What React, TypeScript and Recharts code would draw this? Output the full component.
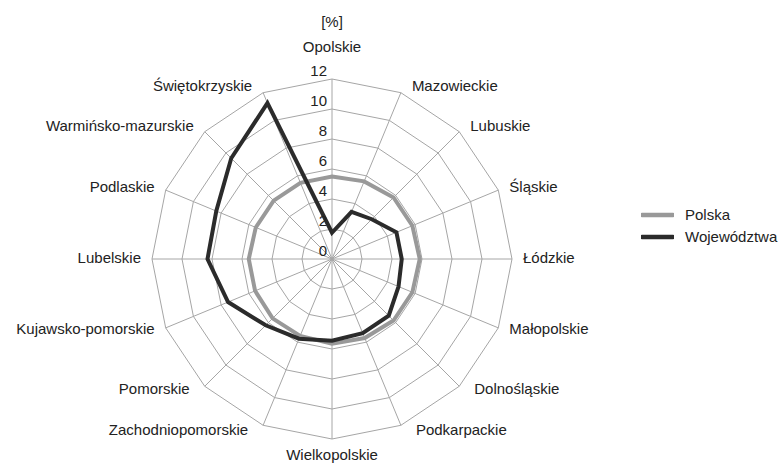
import React from 'react';
import { RadarChart, Radar, PolarGrid, PolarAngleAxis, PolarRadiusAxis } from 'recharts';

const categories = ['Opolskie', 'Mazowieckie', 'Lubuskie', 'Śląskie', 'Łódzkie', 'Małopolskie', 'Dolnośląskie', 'Podkarpackie', 'Wielkopolskie', 'Zachodniopomorskie', 'Pomorskie', 'Kujawsko-pomorskie', 'Lubelskie', 'Podlaskie', 'Warmińsko-mazurskie', 'Świętokrzyskie'];
const polska = [5.5, 5.6, 5.8, 5.8, 5.85, 5.8, 5.8, 5.7, 5.65, 5.55, 5.6, 5.55, 5.55, 5.5, 5.5, 5.5];
const wojewodztwa = [1.75, 3.4, 3.75, 4.65, 4.65, 4.8, 5.35, 5.35, 5.45, 5.75, 6.25, 7.5, 8.3, 8.35, 9.5, 11.25];
const radiusTicks = [0, 2, 4, 6, 8, 10, 12];
const seriesNames = ['Polska', 'Województwa'];
const unitLabel = '[%]';

const data = categories.map((c, i) => ({ name: c, polska: polska[i], woj: wojewodztwa[i] }));

if (typeof document !== 'undefined') {
  document.body.style.margin = '0';
}

const W = 781;
const H = 463;
const CX = 332;
const CY = 259;
const R = 180;
const FONT = '"Liberation Sans", Arial, sans-serif';
const TEXT = '#222';

const AngleTick = (props: any) => {
  const { x, y, payload } = props;
  const dx = x - CX;
  const dy = y - CY;
  const len = Math.sqrt(dx * dx + dy * dy) || 1;
  const ux = dx / len;
  const uy = dy / len;
  const vx = CX + R * ux;
  const vy = CY + R * uy;
  let tx = vx;
  let ty = vy;
  let anchor: 'start' | 'end' | 'middle' = 'middle';
  if (Math.abs(ux) < 0.01) {
    ty = uy < 0 ? vy - 32 : vy + 16;
  } else {
    const gap = 11 + (uy > 0.6 ? 4 : 0);
    tx = vx + Math.sign(ux) * gap;
    ty = vy + 6 * uy - 1.5;
    anchor = ux > 0 ? 'start' : 'end';
  }
  return (
    <text x={tx} y={ty} dy="0.35em" textAnchor={anchor} fontFamily={FONT} fontSize={15} fill={TEXT}>
      {payload.value}
    </text>
  );
};

const RadiusTick = (props: any) => {
  const { y, payload } = props;
  return (
    <text x={CX - 5} y={y - 8} dy="0.35em" textAnchor="end" fontFamily={FONT} fontSize={15} fill={TEXT}>
      {payload.value}
    </text>
  );
};

const colors = ['#999999', '#2b2b2b'];

export default function App() {
  return (
    <div style={{ position: 'relative', width: W, height: H, overflow: 'hidden' }}>
      <RadarChart width={W} height={H} data={data} cx={CX} cy={CY} outerRadius={R} startAngle={90} endAngle={-270}>
        <PolarGrid gridType="polygon" stroke="#a6a6a6" strokeWidth={1} />
        <PolarAngleAxis dataKey="name" tick={<AngleTick />} tickLine={false} axisLine={false} />
        <PolarRadiusAxis angle={90} domain={[0, 12]} ticks={radiusTicks as any} tickCount={7} tick={<RadiusTick />} axisLine={false} tickLine={false} />
        <Radar name={seriesNames[0]} dataKey="polska" stroke={colors[0]} strokeWidth={4} fill="none" fillOpacity={0} dot={false} isAnimationActive={false} />
        <Radar name={seriesNames[1]} dataKey="woj" stroke={colors[1]} strokeWidth={4} fill="none" fillOpacity={0} dot={false} isAnimationActive={false} />
      </RadarChart>
      <div style={{ position: 'absolute', left: CX - 40, width: 80, top: 13, textAlign: 'center', fontFamily: FONT, fontSize: 15, color: TEXT, lineHeight: '18px' }}>
        {unitLabel}
      </div>
      <div style={{ position: 'absolute', left: 641, top: 204, width: 140, whiteSpace: 'nowrap', fontFamily: FONT, fontSize: 15, color: TEXT }}>
        {seriesNames.map((n, i) => (
          <div key={n} style={{ display: 'flex', alignItems: 'center', height: 21.7 }}>
            <svg width={33} height={8} style={{ marginRight: 11, flexShrink: 0 }}>
              <line x1={1} y1={4} x2={32} y2={4} stroke={colors[i]} strokeWidth={4.5} strokeLinecap="round" />
            </svg>
            <span style={{ lineHeight: '18px' }}>{n}</span>
          </div>
        ))}
      </div>
    </div>
  );
}
